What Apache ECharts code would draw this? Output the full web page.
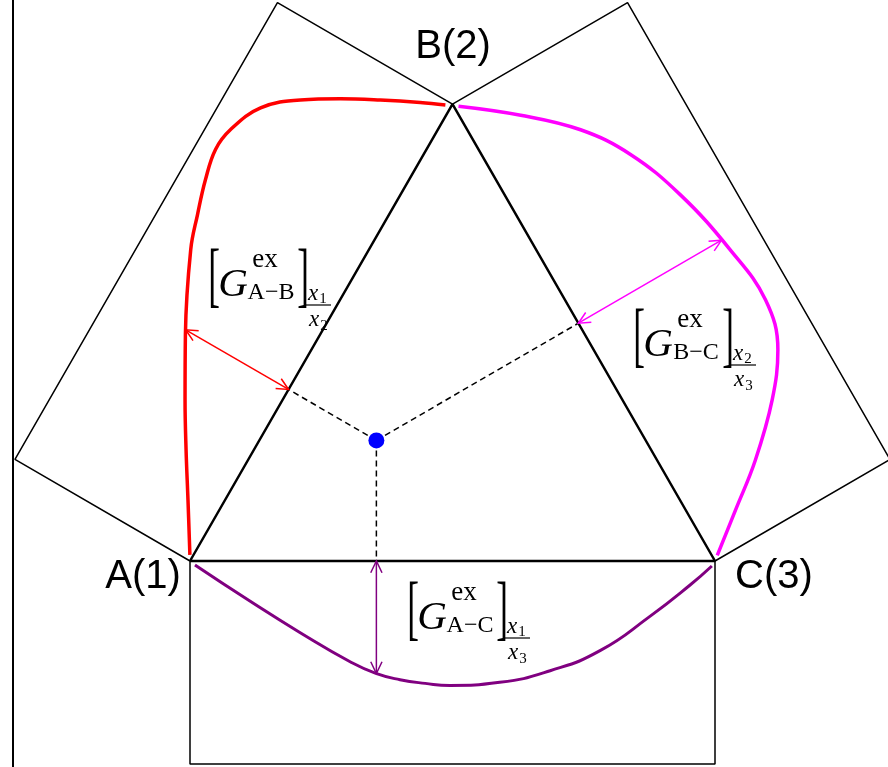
<!DOCTYPE html>
<html>
<head>
<meta charset="utf-8">
<script src="https://cdn.jsdelivr.net/npm/echarts@6/dist/echarts.min.js"></script>
<style>
  html, body { margin: 0; padding: 0; background: #fff; }
  #main { width: 888px; height: 767px; }
</style>
</head>
<body>
<div id="main"></div>
<script>
// Vertex names of the ternary system
const vertexLabels = ['A(1)', 'B(2)', 'C(3)'];

// Mole fractions (x1, x2, x3) of the ternary composition point
const pointComposition = [0.513, 0.264, 0.223];

// Binary excess Gibbs energy curves, each in its edge's own frame:
// position along the edge (0 = first vertex, 1 = second vertex) and magnitude out of the edge
const abPos = [0.010, 0.098, 0.179, 0.260, 0.367, 0.512, 0.576, 0.641, 0.700, 0.747, 0.811, 0.862, 0.902, 0.938, 0.972, 0.992];
const abG   = [0.006, 0.061, 0.112, 0.161, 0.222, 0.294, 0.316, 0.336, 0.348, 0.342, 0.313, 0.255, 0.190, 0.123, 0.055, 0.011];

const bcPos = [0.009, 0.083, 0.164, 0.252, 0.366, 0.503, 0.619, 0.713, 0.790, 0.873, 0.936, 0.993];
const bcG   = [0.008, 0.102, 0.187, 0.246, 0.290, 0.320, 0.331, 0.304, 0.247, 0.162, 0.082, 0.009];

const acPos = [0.0095, 0.114, 0.210, 0.305, 0.354, 0.400, 0.448, 0.495, 0.590, 0.686, 0.781, 0.876, 0.952, 0.994];
const acG   = [0.0076, 0.076, 0.136, 0.191, 0.213, 0.225, 0.232, 0.236, 0.230, 0.208, 0.170, 0.105, 0.046, 0.0095];

// Depth of the panel drawn on each edge (side length = 1)
const panelDepth = 0.385;

// ---- geometry helpers ----
const H = Math.sqrt(3) / 2;
const VA = [0, 0], VB = [0.5, H], VC = [1, 0];
const centroid = [0.5, H / 3];

function edgeFrame(p0, p1) {
  const ux = p1[0] - p0[0], uy = p1[1] - p0[1];
  let nx = uy, ny = -ux;
  const mx = (p0[0] + p1[0]) / 2, my = (p0[1] + p1[1]) / 2;
  if ((mx - centroid[0]) * nx + (my - centroid[1]) * ny < 0) { nx = -nx; ny = -ny; }
  return { p0, p1, ux, uy, nx, ny };
}
function toXY(f, s, h) {
  return [f.p0[0] + s * f.ux + h * f.nx, f.p0[1] + s * f.uy + h * f.ny];
}
function curveXY(f, pos, g) {
  return pos.map((s, i) => toXY(f, s, g[i]));
}
function interp(pos, g, s) {
  for (let i = 0; i < pos.length - 1; i++) {
    if (s >= pos[i] && s <= pos[i + 1]) {
      const t = (s - pos[i]) / (pos[i + 1] - pos[i]);
      return g[i] + t * (g[i + 1] - g[i]);
    }
  }
  return 0;
}
function footParam(f, p) {
  return (p[0] - f.p0[0]) * f.ux + (p[1] - f.p0[1]) * f.uy;
}
function panel(f) {
  return [f.p0, toXY(f, 0, panelDepth), toXY(f, 1, panelDepth), f.p1];
}

const fAB = edgeFrame(VA, VB);
const fBC = edgeFrame(VB, VC);
const fAC = edgeFrame(VA, VC);

const P = [
  pointComposition[0] * VA[0] + pointComposition[1] * VB[0] + pointComposition[2] * VC[0],
  pointComposition[0] * VA[1] + pointComposition[1] * VB[1] + pointComposition[2] * VC[1]
];

const sAB = footParam(fAB, P), sBC = footParam(fBC, P), sAC = footParam(fAC, P);
const footAB = toXY(fAB, sAB, 0), footBC = toXY(fBC, sBC, 0), footAC = toXY(fAC, sAC, 0);
const tipAB = toXY(fAB, sAB, interp(abPos, abG, sAB));
const tipBC = toXY(fBC, sBC, interp(bcPos, bcG, sBC));
const tipAC = toXY(fAC, sAC, interp(acPos, acG, sAC));

const cRed = '#FF0000', cMag = '#FF00FF', cPur = '#800080';
const arrowColors = [cRed, cMag, cPur];

// ---- plot frame: origin A at (190, 561) px ----
const X0 = 190, Y0 = 561, KX = 525, KY = 527.5;
const gLeft = 13, gTop = -20, gW = 900, gH = 810;

const chart = echarts.init(document.getElementById('main'), null, { renderer: 'canvas' });

function plainLine(data, color, width, extra) {
  return Object.assign({
    type: 'line', data, symbol: 'none', silent: true, animation: false,
    lineStyle: { color, width }, z: 2
  }, extra || {});
}

const serif = '"Liberation Serif", "DejaVu Serif", serif';
function txt(x, y, text, size, italic, sx, sy) {
  return {
    type: 'text', x, y, scaleX: sx || 1, scaleY: sy || 1,
    style: {
      text, fontSize: size, fontFamily: serif, fontStyle: italic ? 'italic' : 'normal',
      fill: '#000', textAlign: 'center', textVerticalAlign: 'middle', align: 'center', verticalAlign: 'middle'
    }
  };
}
// [G^ex_sub]_{num/den} built around the centre of the G
function mathLabel(cx, cy, sub, numIdx, denIdx) {
  return {
    type: 'group', x: cx, y: cy, silent: true,
    children: [
      txt(-21, -6, '[', 54, false, 0.65, 1.32),
      txt(-2, 0, 'G', 41, true),
      txt(30, -25, 'ex', 27, false),
      txt(36, 8, sub, 24, false),
      txt(68, -6, ']', 54, false, 0.65, 1.32),
      txt(78, 9, 'x', 23, true),
      txt(88, 14, numIdx, 15, false),
      { type: 'line', shape: { x1: 71, y1: 20, x2: 96, y2: 20 }, style: { stroke: '#000', lineWidth: 1.2 } },
      txt(79, 35, 'x', 23, true),
      txt(89, 41, denIdx, 15, false)
    ]
  };
}
const sans = '"Liberation Sans", Arial, sans-serif';
function vertexText(x, y, text) {
  return {
    type: 'text', x, y, silent: true,
    style: {
      text, fontSize: 40, fontFamily: sans, fill: '#000',
      textAlign: 'center', textVerticalAlign: 'middle', align: 'center', verticalAlign: 'middle'
    }
  };
}

const option = {
  animation: false,
  backgroundColor: '#fff',
  grid: {
    left: gLeft, top: gTop, width: gW, height: gH, outerBoundsMode: 'none', containLabel: false,
    show: true, borderColor: '#000', borderWidth: 2, backgroundColor: 'transparent'
  },
  xAxis: { type: 'value', show: false, min: (gLeft - X0) / KX, max: (gLeft + gW - X0) / KX },
  yAxis: { type: 'value', show: false, min: (Y0 - (gTop + gH)) / KY, max: (Y0 - gTop) / KY },
  series: [
    plainLine(panel(fAB), '#000', 1.5),
    plainLine(panel(fBC), '#000', 1.5),
    plainLine(panel(fAC), '#000', 1.5),
    plainLine([VA, VB, VC, VA], '#000', 2.5, { z: 3 }),
    plainLine(curveXY(fAB, abPos, abG), cRed, 3.5, { smooth: 0.4, z: 4 }),
    plainLine(curveXY(fBC, bcPos, bcG), cMag, 3.5, { smooth: 0.4, z: 4 }),
    plainLine(curveXY(fAC, acPos, acG), cPur, 3, { smooth: 0.5, z: 4 }),
    plainLine([P, footAB], '#000', 1.5, { lineStyle: { color: '#000', width: 1.5, type: [6, 4] } }),
    plainLine([P, footBC], '#000', 1.5, { lineStyle: { color: '#000', width: 1.5, type: [6, 4] } }),
    plainLine([P, footAC], '#000', 1.5, { lineStyle: { color: '#000', width: 1.5, type: [6, 4] } }),
    {
      type: 'custom', silent: true, animation: false, z: 5,
      encode: { x: [0, 2], y: [1, 3] },
      data: [
        [footAB[0], footAB[1], tipAB[0], tipAB[1]],
        [footBC[0], footBC[1], tipBC[0], tipBC[1]],
        [footAC[0], footAC[1], tipAC[0], tipAC[1]]
      ],
      renderItem(params, api) {
        const a = api.coord([api.value(0), api.value(1)]);
        const b = api.coord([api.value(2), api.value(3)]);
        const color = arrowColors[params.dataIndex];
        const L = 13, ang = Math.PI / 7;
        function head(tip, from) {
          const dx = tip[0] - from[0], dy = tip[1] - from[1];
          const len = Math.hypot(dx, dy), ux = dx / len, uy = dy / len;
          const r = t => [tip[0] - L * (ux * Math.cos(t) - uy * Math.sin(t)),
                          tip[1] - L * (ux * Math.sin(t) + uy * Math.cos(t))];
          return { type: 'polyline', shape: { points: [r(ang), tip, r(-ang)] },
                   style: { stroke: color, lineWidth: 1.5, fill: 'none' } };
        }
        return {
          type: 'group',
          children: [
            { type: 'line', shape: { x1: a[0], y1: a[1], x2: b[0], y2: b[1] }, style: { stroke: color, lineWidth: 1.5 } },
            head(a, b), head(b, a)
          ]
        };
      }
    },
    {
      type: 'scatter', data: [P], symbol: 'circle', symbolSize: 16, silent: true, z: 10,
      itemStyle: { color: '#0000FF', opacity: 1, borderWidth: 0 }
    }
  ],
  graphic: [
    vertexText(143, 577, vertexLabels[0]),
    vertexText(453, 47, vertexLabels[1]),
    vertexText(774, 577, vertexLabels[2]),
    mathLabel(235, 285, 'A\u2212B', '1', '2'),
    mathLabel(660, 345, 'B\u2212C', '2', '3'),
    mathLabel(434, 618, 'A\u2212C', '1', '3')
  ]
};
chart.setOption(option);
</script>
</body>
</html>
